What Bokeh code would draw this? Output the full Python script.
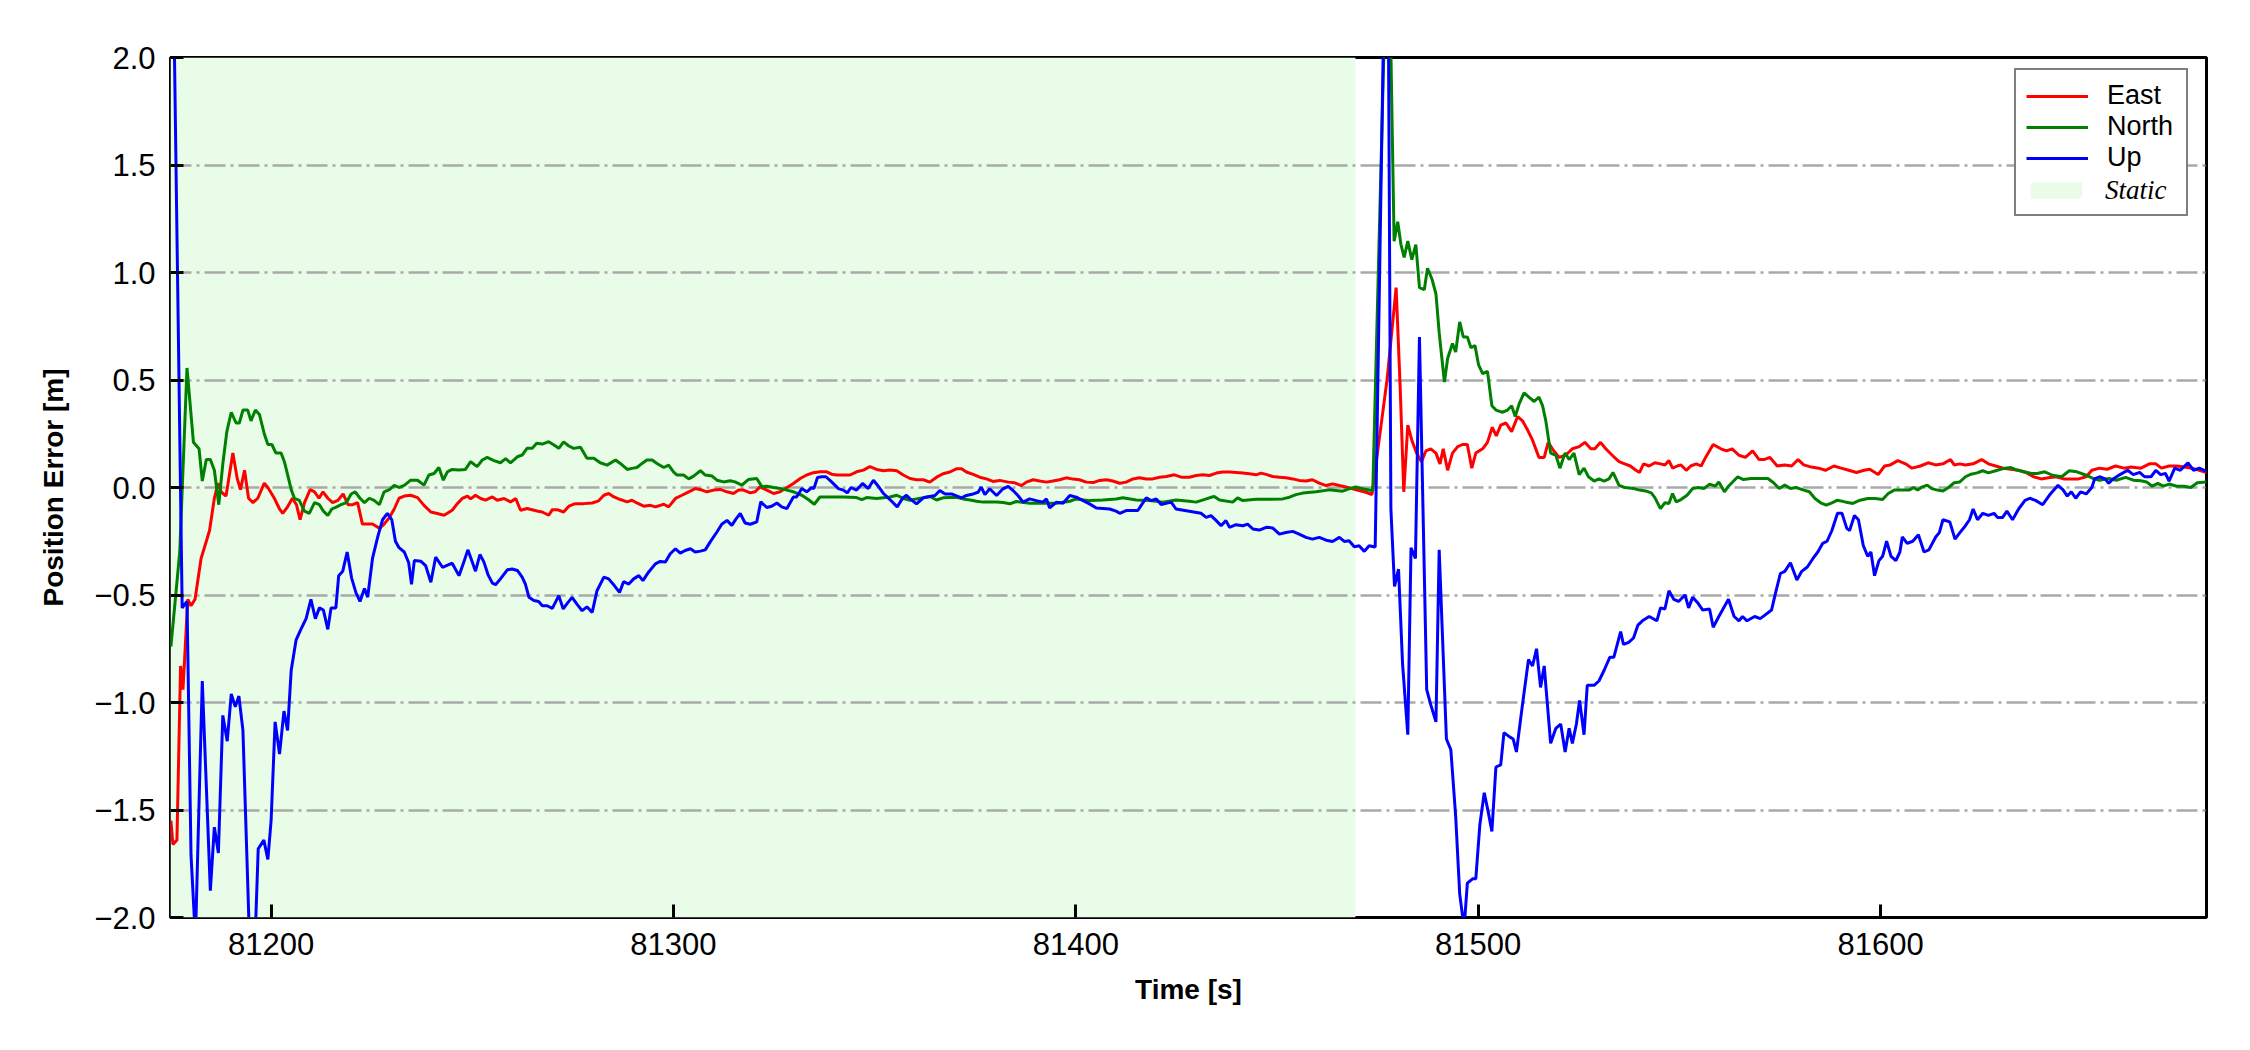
from bokeh.plotting import figure
from bokeh.models import FixedTicker, Legend, LegendItem, Range1d
from bokeh.core.properties import value
from bokeh.embed import file_html
from bokeh.resources import INLINE

# ---------------- data ----------------
x_min, x_max = 81175.0, 81681.0
y_min, y_max = -2.0, 2.0
static_start, static_end = 81175.0, 81469.5

x_ticks = [81200, 81300, 81400, 81500, 81600]
x_tick_labels = ["81200", "81300", "81400", "81500", "81600"]
y_ticks = [-2.0, -1.5, -1.0, -0.5, 0.0, 0.5, 1.0, 1.5, 2.0]
y_tick_labels = ["\u22122.0", "\u22121.5", "\u22121.0", "\u22120.5", "0.0", "0.5", "1.0", "1.5", "2.0"]

series_names = ["East", "North", "Up"]
static_name = "Static"

east_t = [81175.1, 81175.6, 81176.6, 81177.5, 81178.1, 81179.3, 81180.1, 81181.1, 81182.6, 81183.9,
          81184.7, 81185.9, 81186.8, 81187.6, 81188.8, 81190.5, 81191.6, 81192.4, 81193.4, 81194.4,
          81195.5, 81196.7, 81198.3, 81199.2, 81200.8, 81202.1, 81202.9, 81204.1, 81205.3, 81206.3,
          81207.2, 81208.3, 81209.7, 81210.8, 81211.9, 81212.9, 81214.1, 81215.3, 81216.6, 81217.9,
          81219.1, 81220.3, 81221.5, 81222.7, 81224.0, 81225.2, 81226.9, 81228.1, 81229.4, 81230.6,
          81231.8, 81233.1, 81234.7, 81236.4, 81238.0, 81239.7, 81241.3, 81243.0, 81245.0, 81246.3,
          81247.5, 81248.8, 81249.6, 81250.8, 81252.1, 81253.3, 81255.0, 81256.2, 81257.9, 81259.5,
          81260.8, 81262.0, 81263.6, 81266.1, 81267.4, 81269.0, 81269.9, 81271.1, 81272.7, 81274.0,
          81275.6, 81277.7, 81279.8, 81281.4, 81282.7, 81283.9, 81285.2, 81286.8, 81288.5, 81289.7,
          81290.9, 81292.6, 81294.3, 81295.5, 81297.6, 81298.8, 81300.5, 81302.1, 81303.8, 81305.4,
          81307.1, 81308.3, 81310.0, 81311.6, 81313.3, 81314.9, 81316.2, 81317.4, 81319.1, 81320.3,
          81321.5, 81323.2, 81324.9, 81326.5, 81328.2, 81329.8, 81331.5, 81333.1, 81334.8, 81336.4,
          81338.1, 81339.3, 81340.6, 81343.9, 81345.5, 81347.2, 81348.8, 81350.5, 81352.2, 81353.8,
          81355.5, 81357.1, 81358.8, 81360.4, 81362.1, 81363.7, 81365.4, 81367.0, 81368.7, 81370.3,
          81371.6, 81372.8, 81374.5, 81376.1, 81377.8, 81379.4, 81381.1, 81383.2, 81384.8, 81386.5,
          81387.7, 81389.4, 81391.0, 81392.7, 81394.3, 81396.0, 81397.6, 81399.3, 81400.9, 81402.6,
          81404.3, 81405.9, 81407.6, 81409.2, 81410.9, 81412.5, 81414.2, 81415.8, 81417.5, 81419.1,
          81420.8, 81422.5, 81424.5, 81426.2, 81428.2, 81429.9, 81431.6, 81433.2, 81434.9, 81436.5,
          81438.2, 81439.8, 81441.5, 81443.1, 81444.8, 81446.0, 81447.3, 81448.9, 81450.6, 81452.2,
          81453.9, 81455.5, 81457.2, 81458.8, 81460.5, 81462.2, 81463.8, 81465.5, 81467.1, 81468.8,
          81470.4, 81472.1, 81473.6, 81477.4, 81479.6, 81480.6, 81481.5, 81482.5, 81483.5, 81484.7,
          81485.9, 81487.0, 81488.2, 81489.5, 81490.5, 81491.3, 81492.4, 81493.6, 81494.9, 81496.1,
          81497.3, 81498.4, 81499.4, 81501.1, 81502.3, 81503.5, 81504.5, 81505.6, 81506.9, 81508.3,
          81509.8, 81511.0, 81512.2, 81513.5, 81515.1, 81516.4, 81517.4, 81518.8, 81520.1, 81521.7,
          81523.4, 81525.1, 81526.5, 81528.0, 81529.0, 81530.4, 81531.7, 81533.3, 81535.0, 81536.4,
          81537.8, 81539.2, 81540.1, 81541.1, 81542.5, 81543.9, 81545.3, 81546.4, 81547.4, 81548.3,
          81549.5, 81550.4, 81551.7, 81552.8, 81554.2, 81555.4, 81556.5, 81558.4, 81560.3, 81561.7,
          81563.1, 81564.8, 81566.4, 81568.2, 81569.8, 81571.0, 81572.5, 81574.3, 81576.2, 81577.9,
          81579.5, 81580.9, 81582.8, 81584.6, 81586.3, 81588.4, 81590.2, 81592.1, 81594.0, 81595.9,
          81597.3, 81599.4, 81601.0, 81602.4, 81604.3, 81606.2, 81607.8, 81609.9, 81611.8, 81613.7,
          81615.5, 81617.4, 81618.3, 81619.7, 81621.1, 81623.0, 81625.1, 81626.8, 81628.6, 81630.5,
          81632.4, 81634.3, 81636.1, 81638.0, 81639.9, 81641.7, 81643.6, 81645.5, 81647.4, 81649.2,
          81651.1, 81652.5, 81654.4, 81656.3, 81658.4, 81660.5, 81662.3, 81664.7, 81666.8, 81668.4,
          81669.8, 81671.7, 81673.6, 81675.5, 81677.3, 81679.2, 81681.0]
east_v = [-1.55, -1.66, -1.64, -0.83, -0.94, -0.52, -0.55, -0.52, -0.33, -0.25,
          -0.20, -0.05, 0.02, -0.02, -0.04, 0.16, 0.04, -0.01, 0.08, -0.05,
          -0.07, -0.05, 0.02, 0.00, -0.05, -0.10, -0.12, -0.09, -0.05, -0.08,
          -0.15, -0.07, -0.01, -0.02, -0.05, -0.02, -0.05, -0.07, -0.06, -0.03,
          -0.08, -0.08, -0.07, -0.17, -0.17, -0.17, -0.19, -0.17, -0.14, -0.10,
          -0.05, -0.04, -0.036, -0.047, -0.083, -0.114, -0.121, -0.129, -0.106, -0.075,
          -0.051, -0.040, -0.053, -0.036, -0.051, -0.059, -0.044, -0.059, -0.051, -0.067,
          -0.051, -0.106, -0.098, -0.109, -0.114, -0.129, -0.103, -0.103, -0.114, -0.087,
          -0.075, -0.075, -0.072, -0.062, -0.036, -0.028, -0.044, -0.056, -0.067, -0.059,
          -0.072, -0.087, -0.083, -0.090, -0.078, -0.090, -0.051, -0.036, -0.020, -0.005,
          -0.012, -0.020, -0.012, -0.009, -0.020, -0.028, -0.012, -0.012, -0.025, -0.020,
          0.003, -0.012, -0.028, -0.020, 0.000, 0.019, 0.042, 0.058, 0.069, 0.073,
          0.073, 0.062, 0.058, 0.058, 0.073, 0.081, 0.097, 0.084, 0.078, 0.081,
          0.078, 0.058, 0.042, 0.036, 0.036, 0.025, 0.048, 0.064, 0.072, 0.087,
          0.087, 0.072, 0.061, 0.048, 0.040, 0.028, 0.033, 0.025, 0.022, 0.009,
          0.025, 0.036, 0.030, 0.025, 0.030, 0.036, 0.045, 0.039, 0.036, 0.025,
          0.023, 0.033, 0.036, 0.030, 0.020, 0.025, 0.040, 0.045, 0.040, 0.040,
          0.048, 0.051, 0.059, 0.048, 0.048, 0.056, 0.059, 0.056, 0.067, 0.072,
          0.072, 0.070, 0.067, 0.064, 0.059, 0.067, 0.061, 0.051, 0.048, 0.045,
          0.040, 0.033, 0.030, 0.036, 0.020, 0.009, 0.017, 0.009, 0.002, -0.006,
          -0.014, -0.022, -0.033, 0.51, 0.93, 0.47, -0.02, 0.29, 0.22, 0.16,
          0.12, 0.17, 0.18, 0.16, 0.11, 0.18, 0.08, 0.16, 0.19, 0.20,
          0.20, 0.09, 0.16, 0.18, 0.21, 0.28, 0.24, 0.29, 0.30, 0.26,
          0.33, 0.31, 0.27, 0.22, 0.14, 0.14, 0.21, 0.17, 0.14, 0.15,
          0.18, 0.19, 0.21, 0.18, 0.18, 0.21, 0.18, 0.15, 0.12, 0.11,
          0.10, 0.08, 0.07, 0.11, 0.10, 0.115, 0.11, 0.105, 0.125, 0.09,
          0.10, 0.105, 0.08, 0.10, 0.11, 0.10, 0.14, 0.20, 0.18, 0.17,
          0.18, 0.15, 0.14, 0.17, 0.13, 0.13, 0.14, 0.10, 0.105, 0.10,
          0.13, 0.105, 0.095, 0.09, 0.08, 0.10, 0.09, 0.08, 0.07, 0.08,
          0.085, 0.06, 0.10, 0.105, 0.125, 0.11, 0.09, 0.10, 0.115, 0.105,
          0.11, 0.13, 0.105, 0.11, 0.105, 0.11, 0.13, 0.11, 0.10, 0.09,
          0.085, 0.08, 0.07, 0.05, 0.04, 0.045, 0.05, 0.04, 0.04, 0.04,
          0.05, 0.08, 0.09, 0.085, 0.10, 0.09, 0.095, 0.09, 0.11, 0.11,
          0.09, 0.10, 0.10, 0.095, 0.09, 0.08, 0.07]

north_t = [81175.1, 81177.3, 81179.1, 81180.7, 81182.1, 81182.9, 81183.9, 81184.9, 81185.9, 81187.0,
           81188.0, 81189.0, 81190.1, 81191.3, 81192.1, 81193.0, 81194.2, 81195.0, 81196.1, 81197.1,
           81198.3, 81199.2, 81200.2, 81201.2, 81202.5, 81203.3, 81204.1, 81205.0, 81205.8, 81207.0,
           81208.3, 81209.5, 81210.8, 81212.0, 81213.0, 81214.1, 81215.1, 81216.3, 81217.4, 81218.7,
           81219.9, 81220.9, 81222.1, 81223.2, 81224.4, 81225.6, 81226.9, 81228.1, 81229.4, 81230.6,
           81231.8, 81233.1, 81234.7, 81236.4, 81238.0, 81239.2, 81240.5, 81241.7, 81242.8, 81243.8,
           81245.0, 81246.7, 81248.3, 81249.6, 81251.2, 81252.5, 81253.7, 81255.4, 81257.0, 81258.3,
           81259.5, 81261.2, 81262.4, 81263.6, 81264.9, 81266.0, 81267.4, 81269.0, 81270.7, 81271.5,
           81272.7, 81274.0, 81275.2, 81276.9, 81278.5, 81280.2, 81281.8, 81283.5, 81285.6, 81286.8,
           81288.5, 81289.7, 81290.9, 81292.2, 81293.4, 81294.7, 81295.9, 81297.6, 81298.8, 81300.0,
           81300.9, 81302.5, 81303.8, 81305.0, 81306.7, 81307.9, 81309.6, 81310.8, 81312.5, 81314.1,
           81315.3, 81317.0, 81318.6, 81320.7, 81322.0, 81323.2, 81324.9, 81326.5, 81328.2, 81329.8,
           81331.9, 81333.5, 81335.0, 81336.4, 81338.9, 81342.2, 81345.5, 81346.8, 81348.0, 81350.5,
           81353.8, 81355.5, 81357.1, 81358.8, 81360.4, 81362.1, 81363.7, 81365.4, 81367.0, 81370.3,
           81372.0, 81373.7, 81375.3, 81377.0, 81380.3, 81381.9, 81383.6, 81385.2, 81388.5, 81391.8,
           81395.2, 81398.5, 81400.1, 81403.4, 81406.7, 81410.0, 81411.7, 81415.0, 81418.3, 81421.6,
           81424.9, 81428.2, 81429.9, 81433.2, 81434.4, 81435.7, 81439.0, 81440.2, 81441.5, 81444.8,
           81448.1, 81451.4, 81453.1, 81454.7, 81456.4, 81459.7, 81463.0, 81466.3, 81467.9, 81469.6,
           81471.3, 81473.8, 81477.6, 81479.1, 81480.0, 81480.8, 81481.6, 81482.5, 81483.5, 81484.5,
           81485.4, 81486.6, 81487.4, 81488.5, 81489.5, 81490.3, 81491.6, 81492.4, 81493.6, 81494.4,
           81495.4, 81496.3, 81497.3, 81498.2, 81499.2, 81500.1, 81501.1, 81502.3, 81503.4, 81504.4,
           81506.0, 81507.3, 81508.3, 81509.2, 81510.2, 81511.4, 81512.6, 81513.9, 81515.1, 81516.0,
           81516.8, 81518.0, 81519.3, 81520.3, 81521.6, 81522.6, 81523.8, 81525.1, 81526.3, 81527.4,
           81528.8, 81530.0, 81531.3, 81532.5, 81533.5, 81535.0, 81536.4, 81538.7, 81540.1, 81541.6,
           81543.0, 81543.9, 81545.3, 81546.4, 81547.4, 81548.3, 81549.2, 81550.4, 81551.9, 81553.3,
           81554.7, 81556.1, 81557.5, 81558.9, 81559.8, 81561.2, 81562.2, 81564.5, 81565.9, 81567.8,
           81569.6, 81572.0, 81573.4, 81574.8, 81576.2, 81577.6, 81579.0, 81580.9, 81582.3, 81583.7,
           81585.1, 81586.5, 81587.9, 81589.3, 81591.2, 81593.1, 81594.9, 81596.8, 81598.7, 81600.5,
           81601.9, 81603.4, 81605.2, 81607.1, 81608.2, 81609.2, 81610.4, 81611.6, 81612.7, 81614.1,
           81615.5, 81616.9, 81618.3, 81619.7, 81621.1, 81622.5, 81624.0, 81625.4, 81626.8, 81628.6,
           81630.5, 81632.4, 81633.8, 81635.7, 81637.5, 81638.9, 81640.8, 81642.7, 81645.0, 81646.9,
           81648.8, 81651.1, 81652.8, 81654.4, 81656.7, 81658.6, 81660.9, 81662.8, 81664.7, 81666.1,
           81667.5, 81668.9, 81670.3, 81671.7, 81673.6, 81675.4, 81677.1, 81678.7, 81681.0]
north_v = [-0.74, -0.30, 0.556, 0.21, 0.18, 0.03, 0.13, 0.13, 0.08, -0.08,
           0.11, 0.26, 0.35, 0.30, 0.30, 0.36, 0.36, 0.31, 0.36, 0.34,
           0.25, 0.20, 0.20, 0.16, 0.16, 0.12, 0.06, -0.01, -0.05, -0.06,
           -0.11, -0.12, -0.07, -0.08, -0.11, -0.13, -0.10, -0.09, -0.08, -0.07,
           -0.03, -0.02, -0.05, -0.07, -0.05, -0.06, -0.08, -0.02, -0.01, 0.01,
           0.00, 0.01, 0.034, 0.034, 0.011, 0.058, 0.065, 0.093, 0.034, 0.073,
           0.084, 0.081, 0.084, 0.120, 0.097, 0.128, 0.140, 0.125, 0.115, 0.134,
           0.115, 0.143, 0.151, 0.182, 0.182, 0.206, 0.202, 0.213, 0.193, 0.182,
           0.212, 0.193, 0.182, 0.187, 0.136, 0.136, 0.115, 0.104, 0.128, 0.112,
           0.084, 0.089, 0.093, 0.112, 0.128, 0.128, 0.112, 0.093, 0.104, 0.073,
           0.058, 0.058, 0.040, 0.053, 0.078, 0.058, 0.053, 0.034, 0.026, 0.031,
           0.026, 0.011, 0.037, 0.042, 0.003, 0.006, 0.000, -0.005, -0.012, -0.020,
           -0.036, -0.056, -0.078, -0.044, -0.044, -0.044, -0.047, -0.056, -0.047, -0.051,
           -0.044, -0.036, -0.051, -0.059, -0.053, -0.048, -0.042, -0.058, -0.048, -0.045,
           -0.053, -0.058, -0.064, -0.068, -0.068, -0.070, -0.076, -0.065, -0.073, -0.073,
           -0.073, -0.064, -0.053, -0.061, -0.058, -0.053, -0.048, -0.058, -0.061, -0.068,
           -0.058, -0.064, -0.068, -0.048, -0.042, -0.058, -0.068, -0.048, -0.061, -0.055,
           -0.055, -0.053, -0.045, -0.033, -0.026, -0.020, -0.011, -0.017, -0.006, 0.002,
           -0.006, -0.015, 2.8, 1.146, 1.236, 1.13, 1.07, 1.146, 1.06, 1.13,
           0.93, 0.92, 1.02, 0.97, 0.90, 0.72, 0.49, 0.60, 0.67, 0.63,
           0.77, 0.70, 0.70, 0.65, 0.66, 0.57, 0.53, 0.54, 0.38, 0.36,
           0.35, 0.36, 0.38, 0.33, 0.39, 0.44, 0.42, 0.40, 0.42, 0.38,
           0.31, 0.16, 0.15, 0.09, 0.16, 0.13, 0.16, 0.06, 0.09, 0.05,
           0.03, 0.04, 0.03, 0.04, 0.07, 0.01, 0.000, -0.005, -0.012, -0.016,
           -0.025, -0.047, -0.098, -0.071, -0.074, -0.028, -0.067, -0.056, -0.036, -0.005,
           0.000, -0.005, 0.016, 0.006, 0.026, -0.020, 0.006, 0.050, 0.037, 0.042,
           0.042, 0.042, 0.022, -0.005, 0.011, -0.005, 0.000, -0.012, -0.020, -0.051,
           -0.071, -0.082, -0.071, -0.059, -0.067, -0.074, -0.059, -0.051, -0.051, -0.056,
           -0.028, -0.012, -0.012, -0.012, 0.000, -0.012, 0.003, 0.011, -0.005, -0.012,
           -0.016, 0.000, 0.022, 0.026, 0.050, 0.062, 0.068, 0.078, 0.068, 0.078,
           0.088, 0.093, 0.081, 0.073, 0.065, 0.065, 0.073, 0.057, 0.050, 0.078,
           0.073, 0.057, 0.042, 0.034, 0.042, 0.034, 0.047, 0.034, 0.031, 0.026,
           0.006, 0.019, 0.006, 0.016, 0.006, 0.006, 0.000, 0.022, 0.026]

up_t = [81175.1, 81177.9, 81179.1, 81180.1, 81181.2, 81182.9, 81184.9, 81185.9, 81186.9, 81188.0,
        81189.1, 81190.1, 81191.1, 81192.0, 81193.0, 81195.3, 81196.8, 81198.2, 81199.2, 81200.0,
        81201.0, 81202.1, 81203.2, 81204.1, 81205.0, 81206.2, 81207.4, 81208.7, 81209.9, 81211.0,
        81212.0, 81213.0, 81214.1, 81214.9, 81216.1, 81216.8, 81217.8, 81218.9, 81220.0, 81221.1,
        81222.1, 81223.2, 81224.0, 81225.2, 81226.5, 81227.7, 81228.9, 81230.0, 81230.9, 81231.8,
        81233.1, 81234.2, 81234.9, 81235.6, 81237.2, 81238.4, 81239.7, 81240.9, 81242.6, 81245.0,
        81246.7, 81247.9, 81248.9, 81250.0, 81250.8, 81251.9, 81252.9, 81253.9, 81255.0, 81255.8,
        81257.0, 81258.7, 81259.9, 81261.2, 81262.4, 81263.2, 81264.1, 81265.3, 81266.5, 81267.4,
        81268.6, 81269.9, 81271.5, 81272.6, 81273.6, 81274.8, 81276.1, 81277.3, 81278.5, 81279.8,
        81281.0, 81282.7, 81283.9, 81285.3, 81286.6, 81287.6, 81288.9, 81290.1, 81291.4, 81292.4,
        81293.8, 81295.5, 81296.7, 81298.0, 81299.2, 81300.5, 81301.7, 81302.9, 81304.2, 81305.4,
        81306.7, 81307.9, 81309.1, 81310.8, 81312.0, 81313.3, 81314.5, 81315.6, 81316.6, 81317.8,
        81319.1, 81320.7, 81321.7, 81323.2, 81324.4, 81325.7, 81326.9, 81328.2, 81329.8, 81330.6,
        81331.9, 81333.1, 81334.4, 81334.9, 81335.8, 81336.9, 81337.9, 81339.3, 81341.0, 81342.2,
        81343.2, 81344.1, 81345.5, 81347.0, 81348.4, 81349.7, 81350.9, 81352.2, 81353.8, 81355.6,
        81356.9, 81357.9, 81358.8, 81360.4, 81362.1, 81365.0, 81366.2, 81367.5, 81369.1, 81371.6,
        81372.8, 81374.5, 81375.7, 81376.5, 81377.4, 81378.6, 81380.3, 81381.9, 81383.2, 81384.4,
        81385.6, 81386.9, 81388.5, 81390.2, 81391.8, 81392.7, 81393.5, 81395.2, 81396.8, 81398.5,
        81400.1, 81401.8, 81403.4, 81405.1, 81408.4, 81410.0, 81410.9, 81412.5, 81415.4, 81416.2,
        81417.5, 81418.7, 81420.0, 81421.2, 81423.7, 81424.9, 81428.2, 81431.1, 81432.4, 81433.6,
        81434.9, 81436.1, 81437.3, 81438.2, 81439.8, 81441.5, 81442.7, 81444.0, 81445.6, 81447.3,
        81448.9, 81450.6, 81452.2, 81453.9, 81455.5, 81457.2, 81458.8, 81460.5, 81462.2, 81463.8,
        81465.5, 81466.7, 81467.9, 81469.2, 81470.4, 81471.7, 81472.9, 81474.4, 81477.4, 81478.3,
        81479.2, 81480.2, 81481.2, 81482.5, 81483.3, 81484.4, 81485.4, 81487.2, 81488.2, 81489.5,
        81490.3, 81492.1, 81493.2, 81494.4, 81495.4, 81496.5, 81497.3, 81498.6, 81499.4, 81500.4,
        81501.5, 81502.5, 81503.4, 81504.4, 81505.6, 81506.4, 81507.8, 81508.7, 81509.5, 81511.0,
        81512.5, 81513.5, 81514.5, 81515.5, 81516.4, 81518.0, 81519.3, 81520.5, 81521.6, 81522.6,
        81523.4, 81524.4, 81525.2, 81526.3, 81527.1, 81528.8, 81530.0, 81531.3, 81532.7, 81533.7,
        81535.4, 81536.1, 81537.4, 81538.6, 81539.7, 81540.8, 81542.5, 81544.4, 81545.3, 81546.4,
        81547.4, 81548.6, 81549.8, 81551.4, 81552.3, 81553.3, 81554.7, 81555.8, 81557.5, 81558.4,
        81559.8, 81562.2, 81563.6, 81564.8, 81565.7, 81566.8, 81568.7, 81570.1, 81571.5, 81572.9,
        81573.9, 81575.1, 81576.2, 81577.6, 81579.2, 81580.4, 81581.8, 81583.2, 81584.4, 81585.6,
        81586.7, 81587.9, 81589.3, 81590.4, 81591.6, 81592.3, 81593.5, 81594.5, 81595.7, 81596.8,
        81597.6, 81598.5, 81599.6, 81600.5, 81601.5, 81602.6, 81603.8, 81604.8, 81605.4, 81606.6,
        81608.0, 81609.4, 81610.8, 81612.0, 81613.7, 81614.6, 81615.5, 81617.2, 81618.5, 81619.7,
        81621.0, 81622.1, 81623.0, 81624.1, 81625.4, 81626.8, 81628.2, 81629.1, 81630.3, 81631.4,
        81632.8, 81634.3, 81635.9, 81637.1, 81638.5, 81640.3, 81642.2, 81644.1, 81645.3, 81646.4,
        81647.4, 81648.5, 81649.7, 81651.1, 81652.5, 81653.2, 81654.4, 81655.8, 81656.7, 81657.8,
        81659.5, 81661.4, 81662.8, 81664.4, 81665.6, 81667.2, 81668.4, 81669.6, 81670.8, 81671.7,
        81673.1, 81674.5, 81676.4, 81677.8, 81679.2, 81681.0]
up_v = [3.2, -0.56, -0.53, -1.71, -2.1, -0.90, -1.875, -1.58, -1.70, -1.06,
        -1.18, -0.96, -1.02, -0.97, -1.13, -2.5, -1.68, -1.64, -1.73, -1.55,
        -1.09, -1.24, -1.04, -1.13, -0.85, -0.71, -0.66, -0.61, -0.52, -0.61,
        -0.56, -0.57, -0.66, -0.56, -0.56, -0.41, -0.39, -0.30, -0.42, -0.49,
        -0.53, -0.47, -0.51, -0.33, -0.23, -0.15, -0.12, -0.15, -0.25, -0.28,
        -0.30, -0.35, -0.45, -0.34, -0.343, -0.363, -0.441, -0.324, -0.371, -0.352,
        -0.41, -0.347, -0.29, -0.347, -0.389, -0.312, -0.347, -0.405, -0.445, -0.452,
        -0.425, -0.383, -0.379, -0.386, -0.417, -0.449, -0.511, -0.526, -0.53, -0.55,
        -0.55, -0.562, -0.503, -0.565, -0.539, -0.511, -0.545, -0.573, -0.555, -0.581,
        -0.48, -0.417, -0.425, -0.456, -0.488, -0.438, -0.449, -0.425, -0.41, -0.433,
        -0.394, -0.355, -0.344, -0.347, -0.308, -0.285, -0.305, -0.293, -0.285, -0.30,
        -0.296, -0.29, -0.254, -0.207, -0.171, -0.153, -0.176, -0.145, -0.121, -0.165,
        -0.171, -0.16, -0.067, -0.093, -0.087, -0.072, -0.09, -0.098, -0.044, -0.044,
        -0.005, -0.02, 0.0, -0.005, 0.047, 0.05, 0.05, 0.026, -0.005, -0.012,
        -0.025, 0.0, -0.012, 0.019, -0.005, 0.034, 0.006, -0.028, -0.056, -0.09,
        -0.051, -0.036, -0.053, -0.076, -0.048, -0.037, -0.014, -0.03, -0.03, -0.048,
        -0.037, -0.03, -0.022, 0.002, -0.033, -0.006, -0.037, -0.006, 0.005, -0.014,
        -0.037, -0.068, -0.053, -0.061, -0.068, -0.053, -0.095, -0.068, -0.073, -0.037,
        -0.045, -0.061, -0.076, -0.095, -0.10, -0.11, -0.12, -0.107, -0.107, -0.084,
        -0.048, -0.061, -0.053, -0.079, -0.068, -0.10, -0.11, -0.12, -0.139, -0.131,
        -0.154, -0.178, -0.154, -0.185, -0.173, -0.178, -0.17, -0.193, -0.198, -0.185,
        -0.188, -0.217, -0.209, -0.204, -0.217, -0.232, -0.24, -0.232, -0.245, -0.251,
        -0.232, -0.251, -0.248, -0.276, -0.271, -0.297, -0.271, -0.277, 3.2, -0.10,
        -0.46, -0.38, -0.82, -1.15, -0.28, -0.33, 0.70, -0.94, -1.01, -1.09,
        -0.29, -1.17, -1.22, -1.53, -1.89, -2.05, -1.84, -1.82, -1.82, -1.57,
        -1.42, -1.51, -1.60, -1.30, -1.29, -1.14, -1.16, -1.17, -1.23, -1.01,
        -0.80, -0.83, -0.75, -0.93, -0.83, -1.19, -1.12, -1.10, -1.23, -1.12,
        -1.19, -1.10, -0.99, -1.15, -0.92, -0.92, -0.90, -0.85, -0.79, -0.79,
        -0.67, -0.73, -0.72, -0.70, -0.64, -0.62, -0.60, -0.62, -0.56, -0.565,
        -0.48, -0.52, -0.53, -0.50, -0.56, -0.51, -0.54, -0.57, -0.565, -0.65,
        -0.60, -0.52, -0.60, -0.62, -0.60, -0.62, -0.60, -0.61, -0.59, -0.57,
        -0.49, -0.40, -0.39, -0.35, -0.43, -0.39, -0.37, -0.33, -0.30, -0.26,
        -0.25, -0.20, -0.12, -0.12, -0.19, -0.20, -0.13, -0.15, -0.27, -0.32,
        -0.30, -0.41, -0.34, -0.32, -0.25, -0.32, -0.34, -0.30, -0.23, -0.26,
        -0.25, -0.22, -0.30, -0.29, -0.23, -0.21, -0.15, -0.16, -0.24, -0.21,
        -0.18, -0.15, -0.10, -0.15, -0.12, -0.13, -0.12, -0.14, -0.14, -0.11,
        -0.15, -0.10, -0.06, -0.05, -0.06, -0.08, -0.03, 0.01, -0.01, -0.04,
        -0.02, -0.05, -0.02, -0.03, 0.0, 0.04, 0.05, 0.04, 0.02, 0.04,
        0.06, 0.08, 0.06, 0.07, 0.05, 0.05, 0.08, 0.06, 0.065, 0.03,
        0.09, 0.08, 0.115, 0.08, 0.09, 0.075]

# ---------------- styles ----------------
FONT = "Liberation Sans"
east_color, north_color, up_color = "#ff0000", "#008000", "#0000ff"
static_color = "#e8fce8"
LW = 3
FRAME_W, FRAME_H = 2036, 860

p = figure(frame_width=FRAME_W, frame_height=FRAME_H,
           x_range=Range1d(x_min, x_max), y_range=Range1d(y_min, y_max),
           output_backend="svg", toolbar_location=None,
           min_border_left=170, min_border_right=30, min_border_top=57, min_border_bottom=120,
           background_fill_color="white", border_fill_color="white")

r_static = p.quad(left=[static_start], right=[static_end], bottom=[y_min], top=[y_max],
                  fill_color=static_color, fill_alpha=1.0, line_color=None, level="image")

r_e = p.line(east_t, east_v, line_color=east_color, line_width=LW)
r_n = p.line(north_t, north_v, line_color=north_color, line_width=LW)
r_u = p.line(up_t, up_v, line_color=up_color, line_width=LW)

p.outline_line_color = "black"
p.outline_line_width = 3
p.outline_line_alpha = 1.0

# axes
p.xaxis.ticker = FixedTicker(ticks=x_ticks)
p.xaxis.major_label_overrides = dict(zip(x_ticks, x_tick_labels))
p.yaxis.ticker = FixedTicker(ticks=y_ticks)
p.yaxis.major_label_overrides = dict(zip(y_ticks, y_tick_labels))
for ax in (p.xaxis[0], p.yaxis[0]):
    ax.axis_line_color = None
    ax.major_tick_in = 13
    ax.major_tick_out = 0
    ax.major_tick_line_width = 3
    ax.major_tick_line_color = "black"
    ax.minor_tick_line_color = None
    ax.major_label_text_font = FONT
    ax.major_label_text_font_size = "31px"
    ax.major_label_text_color = "black"
    ax.axis_label_text_font = FONT
    ax.axis_label_text_font_size = "28px"
    ax.axis_label_text_font_style = "bold"
    ax.axis_label_text_color = "black"

p.xaxis.axis_label = "Time [s]"
p.xaxis.major_label_standoff = 15
p.xaxis.axis_label_standoff = 16
p.yaxis.axis_label = "Position Error [m]"
p.yaxis.major_label_standoff = 15
p.yaxis.axis_label_standoff = 22

# grid
p.xgrid.visible = False
p.ygrid.grid_line_color = "#a9a9a9"
p.ygrid.grid_line_width = 2.5
p.ygrid.grid_line_dash = "21 5 3 5"

# legend: main box (three lines + static patch); the static label is drawn by a
# second, borderless legend whose single row sits exactly on the main legend's last row
LEG_MARGIN, LEG_PAD, ROW_H, GLYPH_W, STANDOFF, LABEL_W = 15, 10, 31, 62, 19, 69
LEG_BOX_W = 177
N_ROWS = 4
leg_common = dict(padding=LEG_PAD, spacing=0, glyph_width=GLYPH_W, glyph_height=18,
                  label_height=ROW_H, label_width=LABEL_W, label_standoff=STANDOFF,
                  border_line_color="black", margin=0)
leg_h = 2 * LEG_PAD + N_ROWS * ROW_H
leg_x = FRAME_W - LEG_MARGIN - LEG_BOX_W
leg_y = FRAME_H - LEG_MARGIN - leg_h       # bottom edge, measured up from the frame bottom

legend = Legend(items=[LegendItem(label=series_names[0], renderers=[r_e]),
                       LegendItem(label=series_names[1], renderers=[r_n]),
                       LegendItem(label=series_names[2], renderers=[r_u]),
                       LegendItem(label=value(" "), renderers=[r_static])],
                location=(leg_x, leg_y), border_line_width=2.5,
                background_fill_color="white", background_fill_alpha=1.0,
                label_text_font=FONT, label_text_font_size="27px", label_text_color="black",
                **leg_common)
p.add_layout(legend)

legend2 = Legend(items=[LegendItem(label=static_name, renderers=[r_static])],
                 location=(leg_x, leg_y), border_line_alpha=0.0, border_line_width=2.5,
                 background_fill_alpha=0.0,
                 label_text_font="Liberation Serif", label_text_font_style="italic",
                 label_text_font_size="27px", label_text_color="black",
                 **leg_common)
p.add_layout(legend2)

open("out.html", "w").write(file_html(p, INLINE))
